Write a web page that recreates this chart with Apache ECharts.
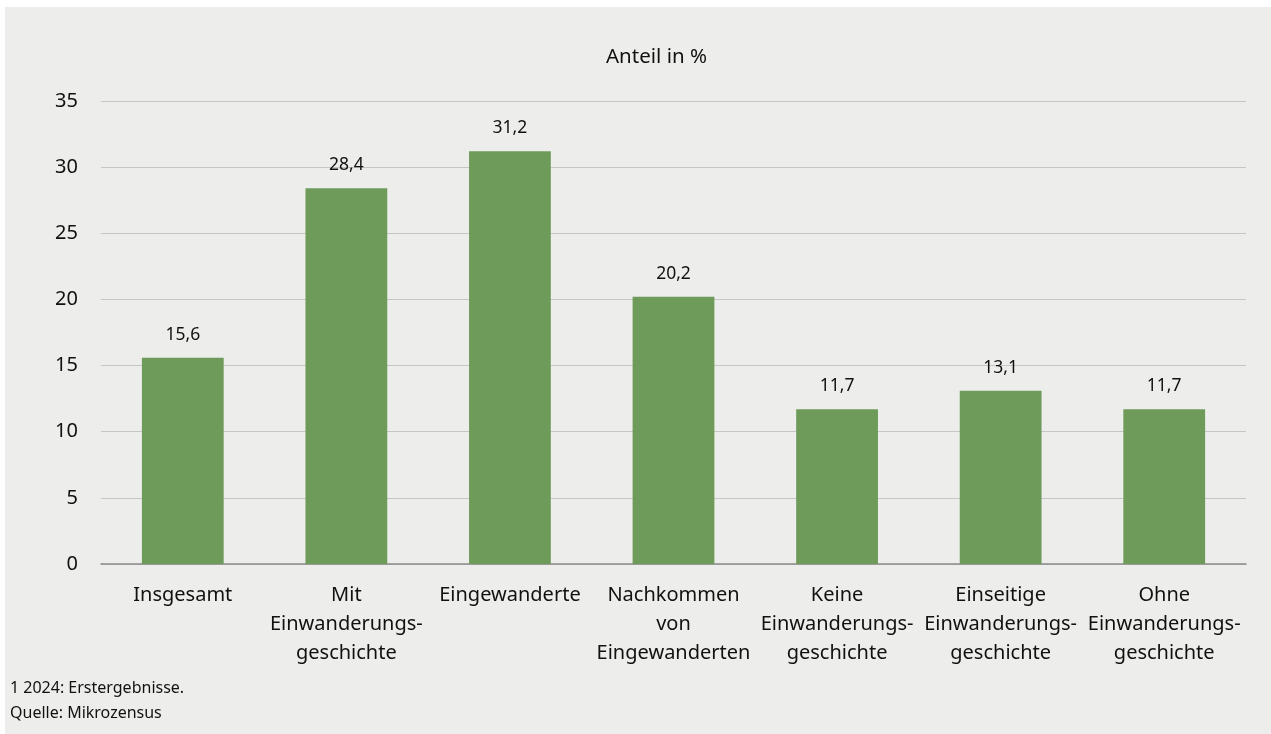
<!DOCTYPE html>
<html>
<head>
<meta charset="utf-8">
<script src="https://cdn.jsdelivr.net/npm/echarts@6/dist/echarts.min.js"></script>
<style>
  html, body { margin: 0; padding: 0; background: #ffffff; }
  #frame { position: absolute; left: 5px; top: 7px; width: 1266px; height: 727px; background: #ededeb; }
  #chart { width: 1266px; height: 727px; }
</style>
</head>
<body>
<div id="frame"><div id="chart"></div></div>
<script>
// Anteil in % nach Einwanderungsgeschichte (Mikrozensus 2024, Erstergebnisse)
const categories = [
  'Insgesamt',
  'Mit\nEinwanderungs-\ngeschichte',
  'Eingewanderte',
  'Nachkommen\nvon\nEingewanderten',
  'Keine\nEinwanderungs-\ngeschichte',
  'Einseitige\nEinwanderungs-\ngeschichte',
  'Ohne\nEinwanderungs-\ngeschichte'
];
const values = [15.6, 28.4, 31.2, 20.2, 11.7, 13.1, 11.7];
const yTicks = { min: 0, max: 35, interval: 5 };
const titleText = 'Anteil in %';
const footnotes = ['1 2024: Erstergebnisse.', 'Quelle: Mikrozensus'];

const FONT = '"Noto Sans", "Open Sans", sans-serif';
const chart = echarts.init(document.getElementById('chart'), null, { renderer: 'canvas' });

chart.setOption({
  backgroundColor: '#ededeb',
  animation: false,
  title: {
    text: titleText,
    left: 596,
    top: 35,
    textStyle: { fontFamily: FONT, fontSize: 20.5, fontWeight: 'normal', color: '#111' }
  },
  graphic: footnotes.map((t, i) => ({
    type: 'text',
    left: 5,
    top: 673 + i * 25,
    style: { text: t, font: '16px ' + FONT, fill: '#111' }
  })),
  grid: { left: 96, right: 25, top: 94, bottom: 170, containLabel: false },
  xAxis: {
    type: 'category',
    data: categories,
    axisTick: { show: false },
    axisLine: { lineStyle: { color: '#8c8c8c', width: 1.5 } },
    axisLabel: {
      interval: 0,
      margin: 17,
      fontFamily: FONT,
      fontSize: 20,
      lineHeight: 29,
      color: '#111'
    }
  },
  yAxis: {
    type: 'value',
    min: yTicks.min,
    max: yTicks.max,
    interval: yTicks.interval,
    axisLine: { show: false },
    axisTick: { show: false },
    splitLine: { lineStyle: { color: '#c6c6c6', width: 1.2 } },
    axisLabel: { margin: 23, fontFamily: FONT, fontSize: 20, color: '#111' }
  },
  series: [{
    type: 'bar',
    data: values,
    barWidth: '50%',
    itemStyle: { color: '#6e9b5a' },
    label: {
      show: true,
      position: 'top',
      distance: 14,
      fontFamily: FONT,
      fontSize: 17.5,
      color: '#111',
      formatter: p => p.value.toFixed(1).replace('.', ',')
    }
  }]
});
</script>
</body>
</html>
